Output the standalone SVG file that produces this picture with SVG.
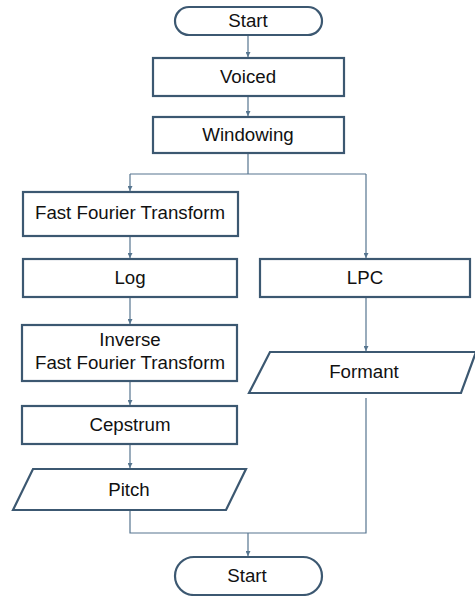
<svg xmlns="http://www.w3.org/2000/svg" width="475" height="596" viewBox="0 0 475 596">
<style>
.n{fill:#fff;stroke:#3c5871;stroke-width:2.2}
.t{font-family:"Liberation Sans",Arial,sans-serif;font-size:18.7px;fill:#111;text-anchor:middle}
.c{fill:none;stroke:#56758f;stroke-width:1.2}
</style>
<defs>
<marker id="a" markerWidth="6" markerHeight="5" refX="5" refY="2.5" orient="auto" markerUnits="userSpaceOnUse">
<path d="M0,0 L5,2.5 L0,5 Z" fill="#56758f"/>
</marker>
</defs>
<g id="connectors">
<path class="c" d="M248,36 V57" marker-end="url(#a)"/>
<path class="c" d="M248,97 V116" marker-end="url(#a)"/>
<path class="c" d="M248,154 V174 M130,174 H366"/>
<path class="c" d="M130,174 V191" marker-end="url(#a)"/>
<path class="c" d="M366,174 V258" marker-end="url(#a)"/>
<path class="c" d="M130,237 V258" marker-end="url(#a)"/>
<path class="c" d="M130,298 V324" marker-end="url(#a)"/>
<path class="c" d="M130,382 V405" marker-end="url(#a)"/>
<path class="c" d="M130,445 V468" marker-end="url(#a)"/>
<path class="c" d="M366,298 V351" marker-end="url(#a)"/>
<path class="c" d="M130,511 V533 H366 V398"/>
<path class="c" d="M248,533 V556" marker-end="url(#a)"/>
</g>
<g id="start">
<rect class="n" x="175" y="7" width="147" height="28" rx="14"/>
<text class="t" x="248" y="27">Start</text>
</g>
<g id="voiced">
<rect class="n" x="153" y="58" width="191" height="38"/>
<text class="t" x="248" y="83">Voiced</text>
</g>
<g id="windowing">
<rect class="n" x="153" y="117" width="191" height="36"/>
<text class="t" x="248" y="141">Windowing</text>
</g>
<g id="fft">
<rect class="n" x="23" y="192" width="215" height="44"/>
<text class="t" x="130" y="219">Fast Fourier Transform</text>
</g>
<g id="log">
<rect class="n" x="23" y="259" width="214" height="38"/>
<text class="t" x="130" y="284">Log</text>
</g>
<g id="lpc">
<rect class="n" x="260" y="259" width="210" height="38"/>
<text class="t" x="365" y="284">LPC</text>
</g>
<g id="ifft">
<rect class="n" x="22" y="325" width="215" height="56"/>
<text class="t" x="130" y="346">Inverse</text>
<text class="t" x="130" y="369">Fast Fourier Transform</text>
</g>
<g id="cepstrum">
<rect class="n" x="22" y="406" width="215" height="38"/>
<text class="t" x="130" y="431">Cepstrum</text>
</g>
<g id="pitch">
<polygon class="n" points="33,469 246,469 226,510 13,510"/>
<text class="t" x="129" y="496">Pitch</text>
</g>
<g id="formant">
<polygon class="n" points="270,352 476,352 461,393 249,393"/>
<text class="t" x="364" y="378">Formant</text>
</g>
<g id="end">
<rect class="n" x="175" y="557" width="147" height="38" rx="19"/>
<text class="t" x="247" y="582">Start</text>
</g>
</svg>
